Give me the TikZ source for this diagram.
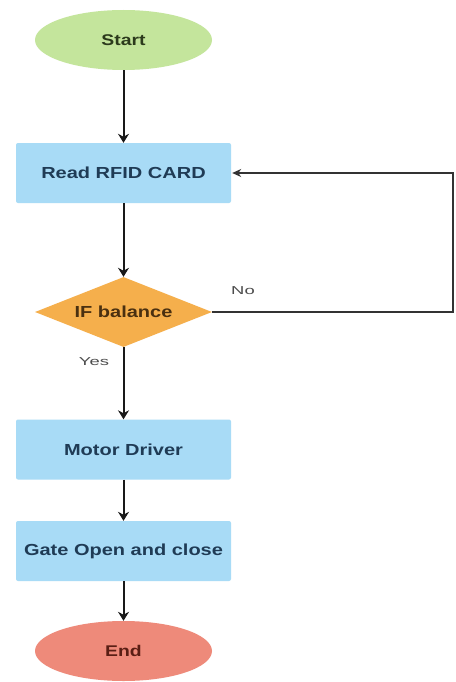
\documentclass[tikz,border=0pt]{standalone}
\usepackage{fontspec}
\usetikzlibrary{shapes.geometric,arrows.meta}
\newfontfamily\shapefont[FakeStretch=1.25]{Liberation Sans}
\newfontfamily\labelfont[FakeStretch=1.6]{Liberation Sans}
\definecolor{startgreen}{HTML}{C4E59C}
\definecolor{boxblue}{HTML}{A8DBF6}
\definecolor{decorange}{HTML}{F5AF4C}
\definecolor{endred}{HTML}{EE8A7A}
\definecolor{boxtext}{HTML}{1F3B55}
\definecolor{starttext}{HTML}{2C3A1C}
\definecolor{endtext}{HTML}{5A1E14}
\definecolor{dectext}{HTML}{4A3010}
\definecolor{linegrey}{HTML}{333333}
\tikzset{
  terminal/.style={ellipse, draw=none, minimum width=177pt, minimum height=60pt, inner sep=0pt,
    font=\shapefont\bfseries\fontsize{15.5}{17}\selectfont},
  process/.style={rectangle, rounded corners=2pt, fill=boxblue, draw=none, minimum width=215pt,
    minimum height=60pt, inner sep=0pt, text=boxtext,
    font=\shapefont\bfseries\fontsize{16}{18}\selectfont},
  decision/.style={diamond, aspect=2.53, fill=decorange, draw=none, minimum width=177pt,
    minimum height=70pt, inner sep=0pt, text=dectext,
    font=\shapefont\bfseries\fontsize{16}{18}\selectfont},
  flowlabel/.style={text=black!70, font=\labelfont\fontsize{11.5}{13}\selectfont},
  arrow/.style={draw=black!90, line width=2pt, -{Stealth[length=9pt,width=11pt]}},
  loopback/.style={draw=linegrey, line width=1.2pt, -{Stealth[length=9pt,width=8pt]}}
}
\begin{document}
\begin{tikzpicture}[x=1pt,y=-1pt]
  \useasboundingbox (0,0) rectangle (455,682);
  \fill[white] (0,0) rectangle (455,682);

  \node[terminal, fill=startgreen, text=starttext] (start) at (123.5,40) {Start};
  \node[process] (read) at (123.5,173) {Read RFID CARD};
  \node[decision] (dec) at (123.5,312) {IF balance};
  \node[process] (motor) at (123.5,449.5) {Motor Driver};
  \node[process] (gate) at (123.5,551) {Gate Open and close};
  \node[terminal, fill=endred, text=endtext] (stop) at (123.5,651) {End};

  \node[flowlabel] (no) at (243,291) {No};
  \node[flowlabel] (yes) at (94,362) {Yes};

  \coordinate (loopA) at (453,312);
  \coordinate (loopB) at (453,173);

  \draw[arrow] (start) -- (read);
  \draw[arrow] (read) -- (dec);
  \draw[arrow] (dec) -- (motor);
  \draw[arrow] (motor) -- (gate);
  \draw[arrow] (gate) -- (stop);
  \draw[loopback] (dec.east) -- (loopA) -- (loopB) -- ([xshift=1pt]read.east);
\end{tikzpicture}
\end{document}
